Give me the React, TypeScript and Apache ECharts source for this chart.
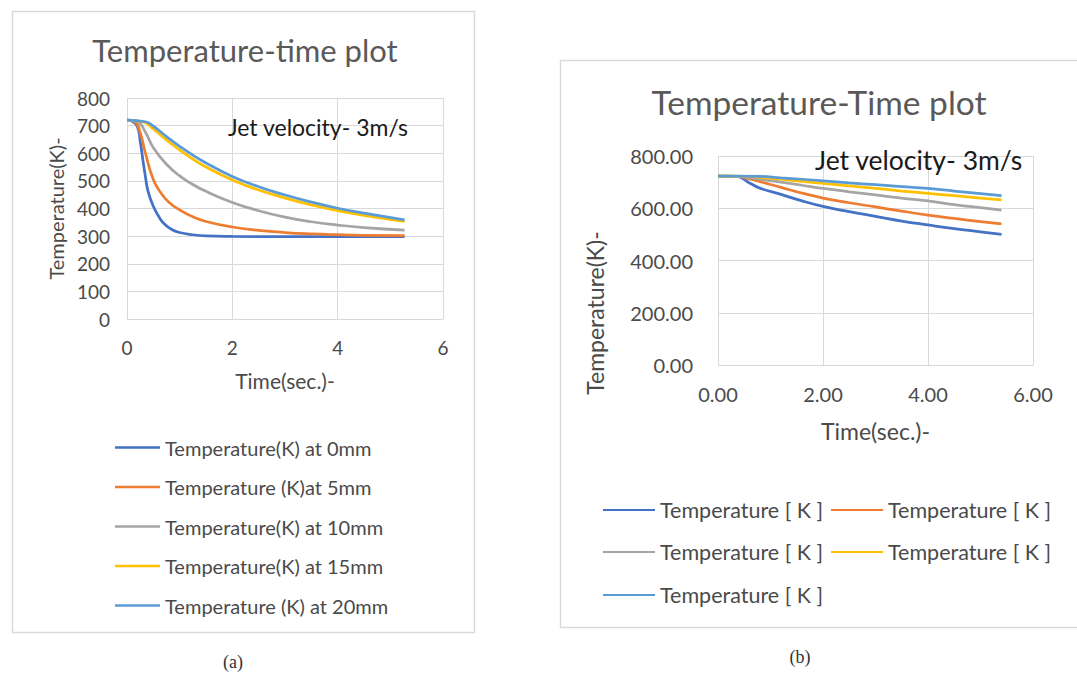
import React, { useEffect, useRef } from "react";
import * as echarts from "echarts";

// ---------- Chart (a) data: [time (s), temperature (K)] ----------
const a0mm: [number, number][] = [
  [0, 720], [0.1, 716], [0.2, 695], [0.25, 645], [0.3, 578], [0.35, 515], [0.4, 462],
  [0.5, 408], [0.6, 372], [0.7, 346], [0.85, 324], [1.0, 313], [1.25, 305], [1.5, 301],
  [2.0, 299], [3.0, 298], [4.0, 298], [5.27, 298],
];
const a5mm: [number, number][] = [
  [0, 720], [0.15, 714], [0.25, 675], [0.35, 600], [0.5, 505], [0.65, 455], [0.8, 422],
  [1.0, 395], [1.25, 370], [1.5, 353], [2.0, 333], [2.5, 321], [3.0, 313], [3.5, 308],
  [4.0, 305], [4.5, 303], [5.27, 302],
];
const a10mm: [number, number][] = [
  [0, 720], [0.2, 714], [0.35, 676], [0.5, 620], [0.75, 560], [1.0, 518], [1.25, 487],
  [1.5, 462], [2.0, 422], [2.5, 392], [3.0, 369], [3.5, 352], [4.0, 340], [4.5, 331],
  [5.27, 322],
];
const a15mm: [number, number][] = [
  [0, 720], [0.3, 714], [0.5, 688], [0.75, 648], [1.0, 612], [1.25, 579], [1.5, 550],
  [2.0, 503], [2.5, 467], [3.0, 438], [3.5, 413], [4.0, 392], [4.5, 375], [5.27, 353],
];
const a20mm: [number, number][] = [
  [0, 720], [0.35, 714], [0.5, 698], [0.75, 660], [1.0, 625], [1.25, 593], [1.5, 565],
  [2.0, 516], [2.5, 479], [3.0, 449], [3.5, 423], [4.0, 401], [4.5, 383], [5.27, 359],
];

// ---------- Chart (b) data: [time (s), temperature (K)] ----------
const b1: [number, number][] = [
  [0, 723], [0.35, 722], [0.6, 697], [0.8, 677], [1.2, 653], [1.6, 628], [2.0, 607],
  [2.5, 587], [3.0, 569], [3.5, 551], [4.0, 536], [4.5, 522], [5.0, 510], [5.4, 500],
];
const b2: [number, number][] = [
  [0, 723], [0.35, 722], [0.6, 712], [0.8, 702], [1.2, 680], [1.6, 658], [2.0, 639],
  [2.5, 621], [3.0, 605], [3.5, 589], [4.0, 574], [4.5, 561], [5.0, 549], [5.4, 540],
];
const b3: [number, number][] = [
  [0, 723], [0.35, 722], [0.8, 711], [1.2, 700], [1.6, 688], [2.0, 676], [2.5, 663],
  [3.0, 651], [3.5, 639], [4.0, 628], [4.5, 614], [5.0, 602], [5.4, 593],
];
const b4: [number, number][] = [
  [0, 723], [0.35, 723], [0.8, 718], [1.2, 711], [1.6, 703], [2.0, 695], [2.5, 686],
  [3.0, 676], [3.5, 666], [4.0, 657], [4.5, 648], [5.0, 639], [5.4, 632],
];
const b5: [number, number][] = [
  [0, 723], [0.35, 723], [0.8, 722], [1.2, 716], [1.6, 711], [2.0, 705], [2.5, 697],
  [3.0, 690], [3.5, 683], [4.0, 676], [4.5, 666], [5.0, 656], [5.4, 648],
];

const namesA = [
  "Temperature(K) at 0mm",
  "Temperature (K)at 5mm",
  "Temperature(K) at 10mm",
  "Temperature(K) at 15mm",
  "Temperature (K) at 20mm",
];
const namesB = ["b1", "b2", "b3", "b4", "b5"];
const legendLabelB = "Temperature [ K ]";
const colors = ["#4472C4", "#ED7D31", "#A5A5A5", "#FFC000", "#5B9BD5"];

const titleA = "Temperature-time plot";
const titleB = "Temperature-Time plot";
const noteText = "Jet velocity- 3m/s";
const xNameText = "Time(sec.)-";
const yNameText = "Temperature(K)-";

const FONT = "Lato";
const GREY = "#595959";
const LABEL = "#4a4a4a";
const GRID = "#d9d9d9";

export default function App() {
  const ref = useRef<HTMLDivElement>(null);

  useEffect(() => {
    if (!ref.current) return;
    const chart = echarts.init(ref.current, null, { renderer: "svg" });

    const dataA = [a0mm, a5mm, a10mm, a15mm, a20mm];
    const dataB = [b1, b2, b3, b4, b5];

    const lineSeries = (name: string, data: [number, number][], color: string, idx: number) => ({
      type: "line",
      name,
      data,
      xAxisIndex: idx,
      yAxisIndex: idx,
      showSymbol: false,
      symbol: "none",
      smooth: 0.5,
      lineStyle: { color, width: 2.75 },
      itemStyle: { color },
      z: 3,
    });

    const series: any[] = [];
    dataA.forEach((d, i) => series.push(lineSeries(namesA[i], d, colors[i], 0)));
    dataB.forEach((d, i) => series.push(lineSeries(namesB[i], d, colors[i], 1)));

    const legendPosB = [
      { left: 598, top: 494 },
      { left: 826, top: 494 },
      { left: 598, top: 536 },
      { left: 826, top: 536 },
      { left: 598, top: 579 },
    ];

    const option: any = {
      animation: false,
      backgroundColor: "#ffffff",
      textStyle: { fontFamily: FONT },
      title: [
        {
          text: titleA,
          left: 240,
          top: 29,
          textAlign: "center",
          textStyle: { fontFamily: FONT, fontSize: 31, fontWeight: "normal", color: GREY },
        },
        {
          text: titleB,
          left: 814,
          top: 80,
          textAlign: "center",
          textStyle: { fontFamily: FONT, fontSize: 33.5, fontWeight: "normal", color: GREY },
        },
      ],
      grid: [
        { left: 127, top: 98, width: 316, height: 221, containLabel: false },
        { left: 718, top: 156, width: 315, height: 209, containLabel: false },
      ],
      xAxis: [
        {
          type: "value",
          gridIndex: 0,
          min: 0,
          max: 6,
          interval: 2,
          name: xNameText,
          nameLocation: "middle",
          nameGap: 51,
          nameTextStyle: { fontFamily: FONT, fontSize: 21, color: LABEL },
          axisLine: { show: true, lineStyle: { color: GRID, width: 1 } },
          axisTick: { show: false },
          axisLabel: { color: LABEL, fontSize: 19, fontFamily: FONT, margin: 19 },
          splitLine: { show: true, lineStyle: { color: GRID, width: 1 } },
        },
        {
          type: "value",
          gridIndex: 1,
          min: 0,
          max: 6,
          interval: 2,
          name: xNameText,
          nameLocation: "middle",
          nameGap: 54,
          nameTextStyle: { fontFamily: FONT, fontSize: 23, color: LABEL },
          axisLine: { show: true, lineStyle: { color: GRID, width: 1 } },
          axisTick: { show: false },
          axisLabel: {
            color: LABEL,
            fontSize: 20,
            fontFamily: FONT,
            margin: 19,
            formatter: (v: number) => v.toFixed(2),
          },
          splitLine: { show: true, lineStyle: { color: GRID, width: 1 } },
        },
      ],
      yAxis: [
        {
          type: "value",
          gridIndex: 0,
          min: 0,
          max: 800,
          interval: 100,
          name: yNameText,
          nameLocation: "middle",
          nameGap: 61,
          nameTextStyle: { fontFamily: FONT, fontSize: 20, color: LABEL },
          axisLine: { show: false },
          axisTick: { show: false },
          axisLabel: { color: LABEL, fontSize: 19, fontFamily: FONT, margin: 17 },
          splitLine: { show: true, lineStyle: { color: GRID, width: 1 } },
        },
        {
          type: "value",
          gridIndex: 1,
          min: 0,
          max: 800,
          interval: 200,
          axisLine: { show: false },
          axisTick: { show: false },
          axisLabel: {
            color: LABEL,
            fontSize: 20,
            fontFamily: FONT,
            margin: 25,
            formatter: (v: number) => v.toFixed(2),
          },
          splitLine: { show: true, lineStyle: { color: GRID, width: 1 } },
        },
      ],
      legend: [
        {
          data: namesA,
          orient: "vertical",
          left: 110,
          top: 432,
          icon: "rect",
          itemWidth: 45,
          itemHeight: 2.5,
          itemGap: 18.5,
          textStyle: { fontFamily: FONT, fontSize: 20, color: LABEL, lineHeight: 21 },
          selectedMode: false,
        },
        ...namesB.map((n, i) => ({
          data: [n],
          orient: "horizontal",
          left: legendPosB[i].left,
          top: legendPosB[i].top,
          icon: "rect",
          itemWidth: 52,
          itemHeight: 2,
          textStyle: { fontFamily: FONT, fontSize: 21.5, color: LABEL, lineHeight: 22 },
          formatter: () => legendLabelB,
          selectedMode: false,
        })),
      ],
      graphic: [
        {
          type: "rect",
          shape: { x: 12.5, y: 11.5, width: 462, height: 621 },
          style: { fill: "none", stroke: GRID, lineWidth: 1.5 },
          z: 0,
        },
        {
          type: "rect",
          shape: { x: 560.5, y: 60.5, width: 530, height: 567 },
          style: { fill: "none", stroke: GRID, lineWidth: 1.5 },
          z: 0,
        },
        {
          type: "text",
          x: 228,
          y: 127,
          style: {
            text: noteText,
            fontFamily: FONT,
            fontSize: 23,
            fill: "#1a1a1a",
            verticalAlign: "middle",
          },
          z: 10,
        },
        {
          type: "text",
          x: 815,
          y: 160,
          style: {
            text: noteText,
            fontFamily: FONT,
            fontSize: 26.5,
            fill: "#1a1a1a",
            verticalAlign: "middle",
          },
          z: 10,
        },
        {
          type: "text",
          x: 595,
          y: 313,
          rotation: Math.PI / 2,
          style: {
            text: yNameText,
            fontFamily: FONT,
            fontSize: 23,
            fill: LABEL,
            align: "center",
            verticalAlign: "middle",
          },
          z: 10,
        },
        {
          type: "text",
          x: 233,
          y: 662,
          style: {
            text: "(a)",
            fontFamily: "Liberation Serif",
            fontSize: 18,
            fill: "#333333",
            align: "center",
            verticalAlign: "middle",
          },
        },
        {
          type: "text",
          x: 800,
          y: 657,
          style: {
            text: "(b)",
            fontFamily: "Liberation Serif",
            fontSize: 18,
            fill: "#333333",
            align: "center",
            verticalAlign: "middle",
          },
        },
      ],
      series,
    };

    chart.setOption(option);
    return () => chart.dispose();
  }, []);

  return (
    <div
      ref={ref}
      style={{ position: "absolute", left: 0, top: 0, width: 1077, height: 675, background: "#fff" }}
    />
  );
}
